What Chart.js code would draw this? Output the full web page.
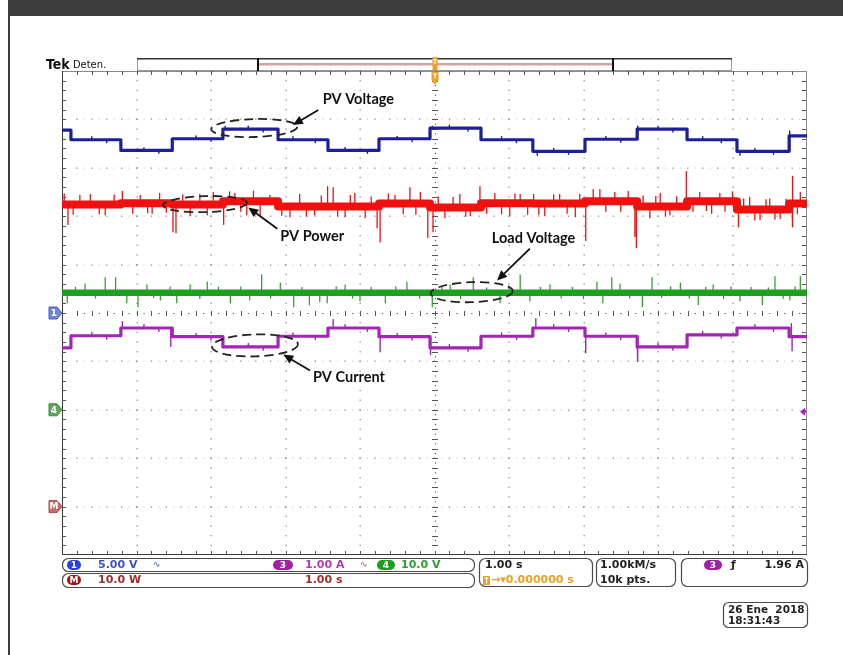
<!DOCTYPE html>
<html>
<head>
<meta charset="utf-8">
<title>PV MPPT – Tek capture</title>
<script src="https://cdn.jsdelivr.net/npm/chart.js@4/dist/chart.umd.min.js"></script>
<style>
  html, body { margin: 0; padding: 0; background: #fff; overflow: hidden; }
  #wrap { position: relative; width: 843px; height: 655px; }
</style>
</head>
<body>
<div id="wrap"><canvas id="scope"></canvas></div>
<script>
// ---- acquisition: 1.00 s/div, trigger at the centre of the record ----
const timeRange = [-5, 5];

// instants (s) where the MPPT perturbation moves the operating point
const stepTimes = [-4.88, -4.21, -3.52, -2.84, -2.10, -1.43, -0.745, -0.06,
                   0.624, 1.32, 2.02, 2.72, 3.39, 4.06, 4.76];

// Ch1 – PV voltage (V), one level per interval between steps
const pvVoltage = [18.9, 17.9, 16.8, 18.0, 19.0, 17.9, 16.8, 18.0,
                   19.1, 17.9, 16.7, 17.95, 19.0, 17.9, 16.7, 18.3];
const pvVoltageSpikes = [
  [-4.6, 18.2], [-4.4, 17.6], [-3.9, 17.05], [-3.7, 16.5], [-3.2, 18.3], [-3.0, 17.75],
  [-2.81, 19.3], [-2.5, 19.3], [-2.3, 18.7], [-1.9, 18.2], [-1.6, 17.6], [-1.2, 17.1],
  [-0.9, 16.5], [-0.5, 18.25], [-0.3, 17.7], [-0.03, 19.3], [0.2, 19.4], [0.45, 18.8],
  [0.9, 18.2], [1.1, 17.6], [1.38, 16.3], [1.6, 17.0], [1.8, 16.4], [2.3, 18.25],
  [2.5, 17.65], [2.73, 19.3], [3.0, 19.3], [3.2, 18.7], [3.6, 18.2], [3.85, 17.6],
  [4.10, 16.3], [4.3, 17.0], [4.55, 16.4], [4.77, 18.8]
];

// Ch3 – PV current (A)
const pvCurrent = [3.28, 3.53, 3.69, 3.51, 3.30, 3.52, 3.69, 3.51,
                   3.28, 3.52, 3.69, 3.52, 3.30, 3.55, 3.69, 3.51];
const pvCurrentSpikes = [
  [-4.6, 3.60], [-4.4, 3.46], [-4.19, 3.82], [-3.9, 3.76], [-3.7, 3.62], [-3.54, 3.31],
  [-3.2, 3.58], [-3.0, 3.44], [-2.5, 3.37], [-2.3, 3.23], [-1.9, 3.59], [-1.6, 3.45],
  [-1.36, 3.86], [-1.2, 3.76], [-0.9, 3.62], [-0.73, 3.20], [-0.5, 3.58], [-0.3, 3.44],
  [-0.05, 3.14], [0.2, 3.35], [0.45, 3.21], [0.9, 3.59], [1.1, 3.45], [1.36, 3.88],
  [1.6, 3.76], [1.8, 3.62], [2.03, 3.18], [2.3, 3.59], [2.5, 3.45], [2.73, 3.00],
  [3.0, 3.37], [3.2, 3.23], [3.6, 3.62], [3.85, 3.48], [4.3, 3.76], [4.55, 3.62],
  [4.79, 3.78], [4.80, 3.22]
];

// Math – PV power (W)
const pvPower = [62.4, 62.4, 62.7, 62.4, 63.1, 62.0, 62.0, 62.6,
                 61.8, 62.7, 62.6, 63.1, 62.0, 63.1, 61.4, 62.6];
const pvPowerSpikes = [
  [-4.97, 64.6], [-4.92, 58.3], [-4.85, 60.4], [-4.76, 64.3], [-4.62, 64.5], [-4.5, 60.5],
  [-4.42, 60.3], [-4.3, 64.4], [-4.19, 65.1], [-4.05, 60.6], [-3.95, 64.3], [-3.85, 60.7],
  [-3.79, 60.6], [-3.69, 64.7], [-3.6, 60.8], [-3.51, 56.8], [-3.47, 56.6], [-3.38, 64.4],
  [-3.28, 60.1], [-3.15, 64.5], [-3.05, 60.3], [-2.97, 64.9], [-2.83, 58.3], [-2.75, 65.0],
  [-2.68, 64.7], [-2.6, 61.0], [-2.52, 60.3], [-2.43, 65.2], [-2.34, 60.1], [-2.21, 64.3],
  [-2.05, 60.2], [-1.94, 59.9], [-1.81, 64.5], [-1.72, 60.0], [-1.61, 60.3], [-1.52, 64.2],
  [-1.44, 66.1], [-1.36, 65.9], [-1.3, 60.0], [-1.20, 59.9], [-1.13, 64.3], [-1.07, 64.7],
  [-0.93, 59.7], [-0.85, 64.0], [-0.77, 57.6], [-0.73, 54.7], [-0.62, 64.6], [-0.53, 64.3],
  [-0.42, 60.5], [-0.33, 65.9], [-0.25, 60.4], [-0.19, 64.9], [-0.09, 55.6], [-0.02, 56.8],
  [0.05, 64.0], [0.14, 59.7], [0.25, 63.9], [0.34, 64.5], [0.42, 60.0], [0.48, 60.1],
  [0.61, 66.1], [0.7, 60.6], [0.81, 64.7], [0.9, 60.5], [1.01, 60.1], [1.08, 64.6],
  [1.15, 64.5], [1.25, 60.4], [1.33, 64.5], [1.4, 60.4], [1.48, 60.1], [1.6, 64.4],
  [1.68, 64.5], [1.78, 60.6], [1.89, 59.9], [1.95, 64.5], [2.03, 55.0], [2.13, 65.5],
  [2.22, 65.5], [2.3, 61.0], [2.42, 64.9], [2.5, 61.0], [2.60, 65.1], [2.69, 55.8],
  [2.71, 53.5], [2.8, 64.2], [2.89, 59.7], [2.97, 64.1], [3.03, 64.7], [3.1, 60.0],
  [3.16, 60.3], [3.25, 64.0], [3.38, 69.2], [3.47, 61.0], [3.56, 64.9], [3.65, 61.2],
  [3.72, 60.6], [3.83, 64.7], [3.9, 61.0], [4.0, 65.0], [4.08, 57.8], [4.15, 63.6],
  [4.23, 63.9], [4.3, 59.2], [4.37, 59.3], [4.45, 63.4], [4.50, 63.6], [4.57, 59.4],
  [4.64, 59.5], [4.72, 63.5], [4.80, 57.8], [4.81, 68.2], [4.87, 60.5], [4.91, 64.9]
];

// Ch4 – load (DC bus) voltage (V), held constant by the converter
const loadVoltage = [24.2];
const loadVoltageSpikes = [
  [-4.93, 22.1], [-4.82, 25.3], [-4.69, 26.0], [-4.55, 23.1], [-4.42, 27.3], [-4.28, 27.3],
  [-4.13, 22.1], [-3.98, 21.3], [-3.86, 25.8], [-3.77, 23.2], [-3.68, 22.7], [-3.55, 25.4],
  [-3.46, 22.1], [-3.28, 25.8], [-3.15, 23.0], [-3.05, 26.4], [-2.9, 25.3], [-2.74, 22.1],
  [-2.6, 25.4], [-2.48, 22.7], [-2.32, 27.9], [-2.2, 23.1], [-2.07, 26.2], [-1.89, 21.3],
  [-1.78, 25.3], [-1.68, 21.7], [-1.54, 22.3], [-1.44, 22.1], [-1.32, 25.4], [-1.20, 25.8],
  [-1.1, 23.1], [-1.00, 22.5], [-0.85, 25.3], [-0.66, 22.1], [-0.52, 25.4], [-0.37, 26.4],
  [-0.2, 23.1], [-0.03, 21.3], [0.1, 25.3], [0.21, 25.8], [0.35, 23.0], [0.52, 27.3],
  [0.7, 25.2], [0.88, 22.1], [1.0, 25.4], [1.15, 27.9], [1.28, 22.5], [1.42, 25.3],
  [1.55, 25.8], [1.7, 23.1], [1.85, 25.3], [2.0, 23.0], [2.18, 26.4], [2.26, 22.1],
  [2.38, 27.3], [2.49, 26.0], [2.62, 23.1], [2.79, 21.3], [2.92, 27.3], [3.05, 23.2],
  [3.17, 25.4], [3.30, 26.2], [3.42, 23.1], [3.54, 21.7], [3.64, 25.3], [3.74, 25.8],
  [3.88, 23.0], [3.98, 25.4], [4.10, 22.5], [4.25, 25.3], [4.40, 21.7], [4.48, 25.2],
  [4.57, 27.5], [4.68, 23.0], [4.77, 22.7], [4.84, 25.4], [4.91, 27.5]
];

// vertical settings: units per division and ground-marker position (divisions from centre)
const ch1 = { perDiv: 5,  ground: 0 };
const ch3 = { perDiv: 1,  ground: -4 };
const ch4 = { perDiv: 10, ground: -2 };
const mathCh = { perDiv: 10, ground: -4 };
const triggerLevel = 1.96; // A on ch3

function axisFor(ch) {
  return { type: 'linear', display: false,
           min: (-5 - ch.ground) * ch.perDiv, max: (5 - ch.ground) * ch.perDiv };
}

// step record -> point list, spikes added as one-sample excursions from the level
function trace(levels, bounds, spikes) {
  const pts = [{ x: timeRange[0], y: levels[0] }];
  bounds.forEach((b, i) => pts.push({ x: b, y: levels[i] }, { x: b, y: levels[i + 1] }));
  pts.push({ x: timeRange[1], y: levels[levels.length - 1] });
  if (spikes) {
    const levelAt = t => { let i = 0; while (i < bounds.length && t >= bounds[i]) i++; return levels[i]; };
    spikes.forEach(([t, v]) => {
      const L = levelAt(t);
      pts.push({ x: t, y: L }, { x: t, y: v }, { x: t, y: L });
    });
  }
  return pts.sort((a, b) => a.x - b.x);
}

const BLUE = '#1d1f9a', RED = '#f01010', GREEN = '#1f9f1f', PURPLE = '#a524b8';

function ds(label, data, axis, color, width) {
  return { label, data, yAxisID: axis, borderColor: color, borderWidth: width,
           pointRadius: 0, tension: 0, fill: false, borderJoinStyle: 'round' };
}

const datasets = [
  ds('PV Voltage', trace(pvVoltage, stepTimes), 'y1', BLUE, 3.2),
  ds('PV Voltage detail', trace(pvVoltage, stepTimes, pvVoltageSpikes), 'y1', BLUE, 1.4),
  ds('PV Power', trace(pvPower, stepTimes), 'yM', RED, 8),
  ds('PV Power detail', trace(pvPower, stepTimes, pvPowerSpikes), 'yM', RED, 1.3),
  ds('Load Voltage', trace(loadVoltage, []), 'y4', GREEN, 6.5),
  ds('Load Voltage detail', trace(loadVoltage, [], loadVoltageSpikes), 'y4', GREEN, 1.2),
  ds('PV Current', trace(pvCurrent, stepTimes), 'y3', PURPLE, 3.2),
  ds('PV Current detail', trace(pvCurrent, stepTimes, pvCurrentSpikes), 'y3', PURPLE, 1.4)
];

// text callouts, anchored in the units of the trace they point at
const callouts = [
  { text: 'PV Voltage',   axis: 'y1', label: [-1.50, 22.1], from: [-1.56, 20.97], to: [-1.90, 19.42], ring: [-2.42, 19.11], rx: 43, ry: 9 },
  { text: 'PV Power',     axis: 'yM', label: [-2.07, 55.8], from: [-2.11, 57.4],  to: [-2.50, 61.8],  ring: [-3.08, 62.5],  rx: 42, ry: 8 },
  { text: 'Load Voltage', axis: 'y4', label: [0.77, 35.5],  from: [1.28, 33.3],   to: [0.84, 26.7],   ring: [0.50, 24.3],   rx: 41, ry: 10 },
  { text: 'PV Current',   axis: 'y3', label: [-1.63, 2.67], from: [-1.67, 2.81],  to: [-2.03, 3.14],  ring: [-2.41, 3.33],  rx: 43, ry: 11 }
];

function roundRect(c, x, y, w, h, r) {
  c.beginPath();
  c.moveTo(x + r, y); c.lineTo(x + w - r, y); c.arcTo(x + w, y, x + w, y + r, r);
  c.lineTo(x + w, y + h - r); c.arcTo(x + w, y + h, x + w - r, y + h, r);
  c.lineTo(x + r, y + h); c.arcTo(x, y + h, x, y + h - r, r);
  c.lineTo(x, y + r); c.arcTo(x, y, x + r, y, r); c.closePath();
}

function badge(c, x, y, w, h, fill, txt) {
  roundRect(c, x, y, w, h, h / 2);
  c.fillStyle = fill; c.fill();
  c.fillStyle = '#fff'; c.font = 'bold 9px "DejaVu Sans"';
  c.textAlign = 'center'; c.textBaseline = 'middle';
  c.fillText(txt, x + w / 2, y + h / 2 + 0.5);
  c.textAlign = 'left';
}

const scopeScreen = {
  id: 'scopeScreen',
  beforeDraw(chart) {
    const c = chart.ctx;
    c.save();
    c.fillStyle = '#fff'; c.fillRect(0, 0, chart.width, chart.height);
    c.fillStyle = '#3b3b3b'; c.fillRect(8, 0, chart.width - 8, 16);
    c.fillRect(8, 16, 2, chart.height - 16);
    c.restore();
  },
  beforeDatasetsDraw(chart) {
    const c = chart.ctx, a = chart.chartArea, sx = chart.scales.x, sy = chart.scales.y1;
    const px = d => sx.getPixelForValue(d);            // 1 s per division
    const py = d => sy.getPixelForValue(d * ch1.perDiv);
    c.save();
    // dotted graticule
    for (let k = -4; k <= 4; k++) {
      if (k === 0) continue;
      for (let m = -24; m <= 24; m++) {
        c.fillStyle = '#8c8c8c';
        c.fillRect(Math.round(px(k)) - 0.5, py(m / 5) - 0.6, 1.3, 1.3);
        c.fillRect(px(m / 5) - 0.6, Math.round(py(k)) - 0.5, 1.3, 1.3);
        c.fillStyle = '#cfcfcf';
        c.fillRect(px(m / 5 + 0.1) - 0.5, Math.round(py(k)) - 0.5, 1.2, 1.2);
      }
    }
    // centre crosshair with minor ticks
    c.fillStyle = '#555';
    const cx = Math.round(px(0)), cy = Math.round(py(0));
    for (let m = -24; m <= 24; m++) {
      c.fillRect(cx - 3, Math.round(py(m / 5)), 6, 1);
      c.fillRect(Math.round(px(m / 5)), cy - 2, 1, 5);
      c.fillRect(cx, py(m / 5 + 0.1) - 0.5, 1, 1.2);
      c.fillRect(px(m / 5 + 0.1) - 0.5, cy, 1.2, 1);
    }
    // frame with inward ticks
    c.strokeStyle = '#8a8a8a'; c.lineWidth = 1;
    c.beginPath();
    c.moveTo(a.left, a.top + 0.5); c.lineTo(a.right, a.top + 0.5);
    c.moveTo(a.right - 0.5, a.top); c.lineTo(a.right - 0.5, a.bottom);
    c.stroke();
    c.strokeStyle = '#3a3a3a';
    c.beginPath();
    c.moveTo(a.left + 0.5, a.top); c.lineTo(a.left + 0.5, a.bottom - 0.5); c.lineTo(a.right, a.bottom - 0.5);
    c.stroke();
    c.fillStyle = '#555';
    for (let m = -24; m <= 24; m++) {
      const yy = Math.round(py(m / 5)), xx = Math.round(px(m / 5));
      c.fillRect(a.left, yy, 4, 1); c.fillRect(a.right - 5, yy, 4, 1);
      c.fillRect(xx, a.bottom - 4, 1, 4); c.fillRect(xx, a.top, 1, 4);
    }
    c.restore();
  },
  afterDatasetsDraw(chart) {
    const c = chart.ctx, a = chart.chartArea, sx = chart.scales.x, S = chart.scales;
    c.save();

    // --- callouts: dashed rings, arrows, labels ---
    callouts.forEach(o => {
      const sy = S[o.axis];
      const P = ([t, v]) => [sx.getPixelForValue(t), sy.getPixelForValue(v)];
      const [ex, ey] = P(o.ring);
      c.setLineDash([9, 5]); c.lineWidth = 1.8; c.strokeStyle = '#222';
      c.beginPath(); c.ellipse(ex, ey, o.rx, o.ry, -0.03, 0, Math.PI * 2); c.stroke();
      c.setLineDash([]);
      const [x0, y0] = P(o.from), [x1, y1] = P(o.to);
      const ang = Math.atan2(y1 - y0, x1 - x0);
      c.lineWidth = 1.8; c.strokeStyle = '#111';
      c.beginPath(); c.moveTo(x0, y0); c.lineTo(x1 - 6 * Math.cos(ang), y1 - 6 * Math.sin(ang)); c.stroke();
      c.fillStyle = '#111'; c.beginPath();
      c.moveTo(x1, y1);
      c.lineTo(x1 - 10 * Math.cos(ang) + 4.5 * Math.sin(ang), y1 - 10 * Math.sin(ang) - 4.5 * Math.cos(ang));
      c.lineTo(x1 - 10 * Math.cos(ang) - 4.5 * Math.sin(ang), y1 - 10 * Math.sin(ang) + 4.5 * Math.cos(ang));
      c.closePath(); c.fill();
      const [lx, ly] = P(o.label);
      c.font = 'bold 14.5px Lato'; c.fillStyle = '#111'; c.textBaseline = 'middle';
      c.fillText(o.text, lx, ly);
    });

    // --- ground markers on the left edge ---
    const marker = (y, fill, edge, txt) => {
      const xr = a.left;
      c.beginPath();
      c.moveTo(xr - 13, y - 6); c.lineTo(xr - 5, y - 6); c.lineTo(xr, y);
      c.lineTo(xr - 5, y + 6); c.lineTo(xr - 13, y + 6); c.closePath();
      c.fillStyle = fill; c.fill(); c.strokeStyle = edge; c.lineWidth = 1; c.stroke();
      c.fillStyle = '#fff'; c.font = 'bold 9px "DejaVu Sans"'; c.textAlign = 'center'; c.textBaseline = 'middle';
      c.fillText(txt, xr - 8, y + 0.5); c.textAlign = 'left';
    };
    marker(S.y1.getPixelForValue(0), '#7083d6', '#4d5fc0', '1');
    marker(S.y4.getPixelForValue(0), '#5fa85f', '#3d8a3d', '4');
    marker(S.yM.getPixelForValue(0), '#c86a6a', '#a84a4a', 'M');

    // trigger level arrow (ch3) on the right edge
    const ty = S.y3.getPixelForValue(triggerLevel);
    c.fillStyle = PURPLE; c.beginPath();
    c.moveTo(a.right - 7, ty); c.lineTo(a.right - 2, ty - 4); c.lineTo(a.right - 2, ty + 4); c.closePath(); c.fill();
    c.fillRect(a.right - 3, ty - 1, 2, 2);

    // trigger position marker at the top of the graticule
    const tx = sx.getPixelForValue(0);
    c.fillStyle = '#f0a020';
    c.fillRect(tx - 3, a.top + 1, 7, 8);
    c.beginPath(); c.moveTo(tx - 3, a.top + 9); c.lineTo(tx + 4, a.top + 9); c.lineTo(tx + 0.5, a.top + 14); c.closePath(); c.fill();
    c.fillStyle = '#fff'; c.fillRect(tx - 1.5, a.top + 2.5, 4, 1.2); c.fillRect(tx, a.top + 2.5, 1.2, 5);

    // --- header: logo, acquisition state, record bar ---
    c.textBaseline = 'alphabetic';
    c.fillStyle = '#111'; c.font = 'bold 14px "DejaVu Sans Condensed"';
    c.fillText('Tek', 46, 69);
    c.font = '11px "DejaVu Sans Condensed"'; c.fillText('Deten.', 73, 68);
    c.strokeStyle = '#9a9a9a'; c.lineWidth = 1;
    c.strokeRect(137.5, 58.5, 594, 12);
    c.fillStyle = '#333'; c.fillRect(137, 58, 595, 1.5);
    c.fillStyle = '#d9a3a3'; c.fillRect(258, 63, 355, 2.5);
    c.fillStyle = '#111'; c.fillRect(257, 58, 2, 13); c.fillRect(612, 58, 2, 13);
    c.fillStyle = '#f0a020'; c.fillRect(tx - 2, 57, 5, 13);
    c.fillStyle = '#fff'; c.fillRect(tx - 1, 59, 3, 1); c.fillRect(tx, 59, 1, 5);

    // --- status bar ---
    c.strokeStyle = '#4a4a4a'; c.lineWidth = 1.2;
    roundRect(c, 62.5, 558.5, 412, 13, 6); c.stroke();
    roundRect(c, 62.5, 573.5, 412, 14, 6); c.stroke();
    roundRect(c, 479.5, 558.5, 113, 28, 6); c.stroke();
    roundRect(c, 596.5, 558.5, 79, 28, 6); c.stroke();
    roundRect(c, 681.5, 558.5, 126, 28, 6); c.stroke();
    roundRect(c, 723.5, 602.5, 84, 25, 5); c.stroke();

    badge(c, 67, 560, 14, 10, '#2a3fe0', '1');
    badge(c, 273, 560, 20, 10, '#a21fa8', '3');
    badge(c, 377, 560, 18, 10, '#1f9f1f', '4');
    badge(c, 67, 575, 14, 10, '#a41616', 'M');
    badge(c, 704, 560, 18, 10, '#a21fa8', '3');

    c.textBaseline = 'middle'; c.font = 'bold 11px "DejaVu Sans"';
    const put = (t, x, y, col) => { c.fillStyle = col; c.fillText(t, x, y); };
    put('5.00 V', 98, 565.5, '#3a4fd6');
    put('1.00 A', 305, 565.5, '#b23ab8');
    put('10.0 V', 401, 565.5, '#2ea02e');
    put('10.0 W', 98, 580.5, '#a52a2a');
    put('1.00 s', 305, 580.5, '#a52a2a');
    put('1.00 s', 485, 565.5, '#222');
    put('1.00kM/s', 600, 565.5, '#222');
    put('10k pts.', 600, 580.5, '#222');
    c.textAlign = 'right'; put('1.96 A', 804, 565.5, '#222'); c.textAlign = 'left';
    put('\u0192', 731, 565.5, '#222');
    c.font = '9px "DejaVu Sans"';
    put('\u223F', 153, 565, '#3a4fd6');
    put('\u223F', 360, 565, '#b23ab8');
    // trigger offset readout
    c.fillStyle = '#f0a020'; c.fillRect(483, 576, 7, 9);
    c.fillStyle = '#fff'; c.fillRect(484.5, 577.5, 4, 1.2); c.fillRect(486, 577.5, 1.2, 6);
    c.font = 'bold 11px "DejaVu Sans"';
    put('\u2192\u25BE0.000000 s', 491, 580.5, '#f0a020');
    // date / time
    c.font = 'bold 10.5px "DejaVu Sans"';
    put('26 Ene  2018', 728, 610, '#222');
    put('18:31:43', 728, 621, '#222');
    c.restore();
  }
};

new Chart(document.getElementById('scope'), {
  type: 'line',
  data: { datasets },
  options: {
    responsive: true, maintainAspectRatio: false, animation: false,
    layout: { padding: { left: 62, right: 36, top: 71, bottom: 100 } },
    plugins: { legend: { display: false }, tooltip: { enabled: false } },
    events: [],
    scales: {
      x: { type: 'linear', display: false, min: timeRange[0], max: timeRange[1] },
      y1: axisFor(ch1),
      y3: axisFor(ch3),
      y4: axisFor(ch4),
      yM: axisFor(mathCh)
    }
  },
  plugins: [scopeScreen]
});
</script>
</body>
</html>
